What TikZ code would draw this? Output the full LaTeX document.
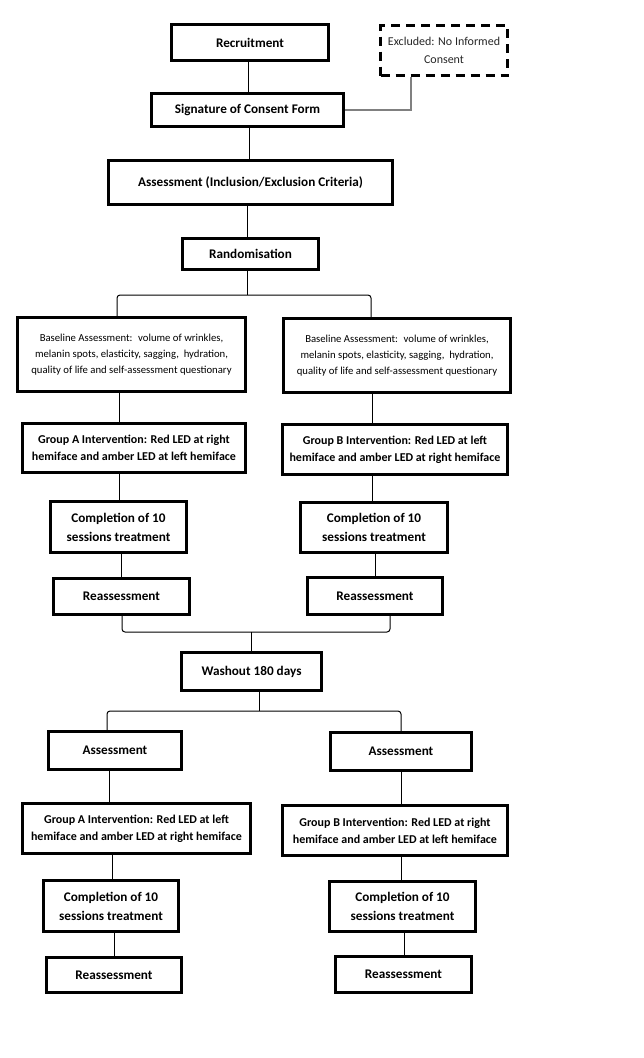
\documentclass[tikz,border=0pt]{standalone}
\usepackage{fontspec}
\setmainfont{Carlito}
\begin{document}
\begin{tikzpicture}
    [ x=1pt, y=-1pt
    , every node/.style={draw, line width=3pt, align=center, inner sep=1pt}
    , boxsize/.style 2 args={minimum width={#1-3}, minimum height={#2-3}}
    , title/.style={font=\bfseries\fontsize{13.2}{19}\selectfont}
    , group/.style={font=\bfseries\fontsize{12}{17}\selectfont}
    , baseline/.style={font=\fontsize{10.7}{16}\selectfont}
    , excluded/.style={dash pattern=on 9pt off 6pt, font=\fontsize{12}{18}\selectfont, text=black!85}
    , link/.style={line width=1pt}
    , fork/.style={line width=1pt, rounded corners=3pt}
    ]
\useasboundingbox (0,0) rectangle (643,1058);
% enrolment
\node[title, boxsize={160}{39}] (rec) at (250,42.5) {Recruitment};
\node[excluded, boxsize={130}{53}] (excl) at (444,50.5) {Excluded: No Informed\\Consent};
\node[title, boxsize={195}{36}] (sig) at (247.5,110) {Signature of Consent Form};
\node[title, boxsize={287}{47}] (incl) at (250.5,182.5) {Assessment (Inclusion/Exclusion Criteria)};
\node[title, boxsize={139}{34}] (rand) at (250.5,254) {Randomisation};
\draw[link] (rec.south -| 248,0) -- (sig.north -| 248,0);
\draw[link] (sig.south -| 249,0) -- (incl.north -| 249,0);
\draw[link] (incl.south -| 247,0) -- (rand.north -| 247,0);
\draw[line width=1.3pt, gray] (sig.east) -| (excl.south -| 411,0);
% first period
\node[baseline, boxsize={231}{77}] (baseA) at (131.5,354.5)
    {Baseline Assessment:~ volume of wrinkles,\\melanin spots, elasticity, sagging, ~hydration,\\quality of life and self-assessment questionary};
\node[baseline, boxsize={230}{77}] (baseB) at (397,355.5)
    {Baseline Assessment:~ volume of wrinkles,\\melanin spots, elasticity, sagging, ~hydration,\\quality of life and self-assessment questionary};
\node[group, boxsize={226}{52}] (grpA) at (134,448) {Group A Intervention: Red LED at right\\hemiface and amber LED at left hemiface};
\node[group, boxsize={228}{53}] (grpB) at (395,449.5) {Group B Intervention: Red LED at left\\hemiface and amber LED at right hemiface};
\node[title, boxsize={139}{54}] (compA) at (118.5,527) {Completion of 10\\sessions treatment};
\node[title, boxsize={150}{53}] (compB) at (374,527.5) {Completion of 10\\sessions treatment};
\node[title, boxsize={139}{39}] (reA) at (121.5,596.5) {Reassessment};
\node[title, boxsize={138}{40}] (reB) at (375,596) {Reassessment};
\coordinate (fork1) at (247,295);
\draw[link] (rand.south -| fork1) -- (fork1);
\draw[fork] (baseA.north -| 117,0) |- (fork1) -| (baseB.north -| 371,0);
\draw[link] (baseA.south -| 119,0) -- (grpA.north -| 119,0);
\draw[link] (baseB.south -| 372,0) -- (grpB.north -| 372,0);
\draw[link] (grpA.south -| 119,0) -- (compA.north -| 119,0);
\draw[link] (grpB.south -| 372,0) -- (compB.north -| 372,0);
\draw[link] (compA.south -| 121,0) -- (reA.north -| 121,0);
\draw[link] (compB.south -| 375,0) -- (reB.north -| 375,0);
% washout and second period
\node[title, boxsize={143}{41}] (wash) at (251.5,671.5) {Washout 180 days};
\coordinate (join1) at (251,632);
\draw[fork] (reA.south -| 122,0) |- (join1) -| (reB.south -| 390,0);
\draw[link] (join1) -- (wash.north -| join1);
\node[title, boxsize={136}{41}] (asA) at (115,750.5) {Assessment};
\node[title, boxsize={144}{41}] (asB) at (401,751.5) {Assessment};
\node[group, boxsize={231}{53}] (grpA2) at (136.5,828.5) {Group A Intervention: Red LED at left\\hemiface and amber LED at right hemiface};
\node[group, boxsize={228}{53}] (grpB2) at (395,830.5) {Group B Intervention: Red LED at right\\hemiface and amber LED at left hemiface};
\node[title, boxsize={138}{54}] (compA2) at (111,906) {Completion of 10\\sessions treatment};
\node[title, boxsize={149}{53}] (compB2) at (402.5,906.5) {Completion of 10\\sessions treatment};
\node[title, boxsize={138}{38}] (reA2) at (114,975) {Reassessment};
\node[title, boxsize={139}{39}] (reB2) at (403.5,974.5) {Reassessment};
\coordinate (fork2) at (259,711);
\draw[link] (wash.south -| fork2) -- (fork2);
\draw[fork] (asA.north -| 107,0) |- (fork2) -| (asB.north -| 401,0);
\draw[link] (asA.south -| 109,0) -- (grpA2.north -| 109,0);
\draw[link] (asB.south -| 401,0) -- (grpB2.north -| 401,0);
\draw[link] (grpA2.south -| 112,0) -- (compA2.north -| 112,0);
\draw[link] (grpB2.south -| 401,0) -- (compB2.north -| 401,0);
\draw[link] (compA2.south -| 114,0) -- (reA2.north -| 114,0);
\draw[link] (compB2.south -| 404,0) -- (reB2.north -| 404,0);
\end{tikzpicture}
\end{document}
